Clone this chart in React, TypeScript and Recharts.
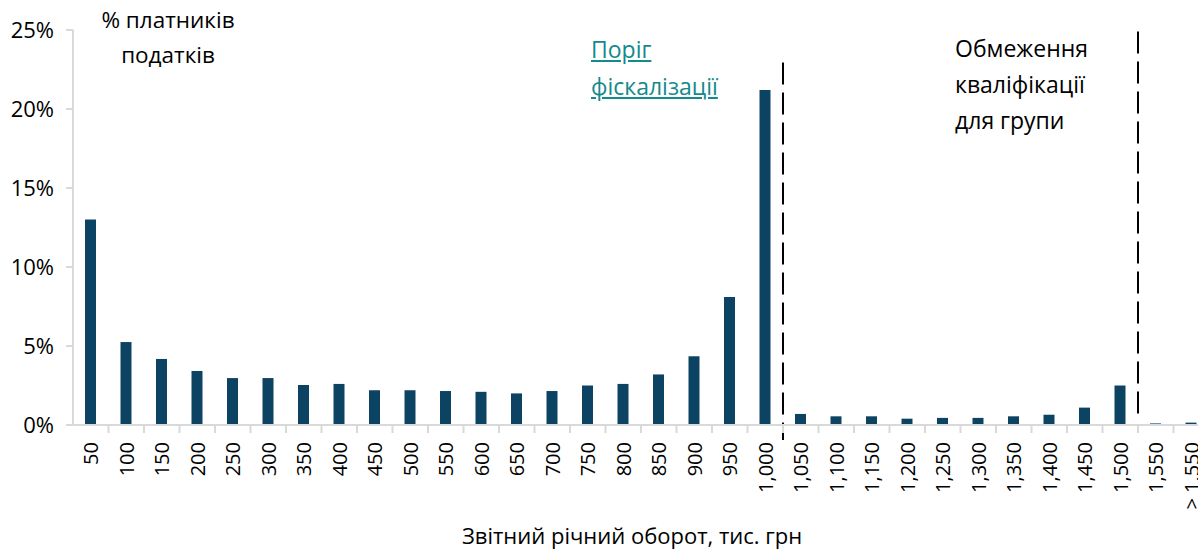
import React from 'react';
import {
  BarChart,
  Bar,
  XAxis,
  YAxis,
  ReferenceLine,
} from 'recharts';

// Turnover buckets, thousand UAH
const categories = [
  '50', '100', '150', '200', '250', '300', '350', '400', '450', '500',
  '550', '600', '650', '700', '750', '800', '850', '900', '950', '1,000',
  '1,050', '1,100', '1,150', '1,200', '1,250', '1,300', '1,350', '1,400', '1,450', '1,500',
  '1,550', '> 1,550',
];

// Share of taxpayers, %
const shares = [
  13.0, 5.25, 4.18, 3.42, 2.97, 2.97, 2.53, 2.6, 2.2, 2.2,
  2.15, 2.1, 2.0, 2.15, 2.5, 2.6, 3.2, 4.35, 8.1, 21.2,
  0.7, 0.55, 0.55, 0.4, 0.45, 0.45, 0.55, 0.65, 1.1, 2.5,
  0.1, 0.15,
];

const yTicks = [0, 5, 10, 15, 20, 25];

const data = categories.map((c, i) => ({ name: c, value: shares[i] }));

const FONT = '"Open Sans", sans-serif';
const BAR = '#0c4262';
const TEAL = '#138a8c';
const GRID = '#d9d9d9';
const BAND = 35.5;

const XTick = (props: any) => {
  const { x, y, payload } = props;
  return (
    <g>
      <line x1={x + BAND / 2} x2={x + BAND / 2} y1={y} y2={y + 8} stroke={GRID} strokeWidth={2} />
      <text
        x={x}
        y={y + 17}
        transform={`rotate(-90, ${x}, ${y + 17})`}
        textAnchor="end"
        dominantBaseline="central"
        fontFamily={FONT}
        fontSize={20}
        fill="#000"
      >
        {payload.value}
      </text>
    </g>
  );
};

export default function App() {
  return (
    <div style={{ position: 'absolute', left: 0, top: 0, width: 1198, height: 551, overflow: 'hidden', background: '#fff' }}>
      <BarChart
        width={1210}
        height={551}
        data={data}
        margin={{ top: 30, right: 1, bottom: 0, left: 11 }}
        barCategoryGap={0}
      >
        <XAxis
          dataKey="name"
          interval={0}
          height={126}
          tickSize={0}
          tickMargin={0}
          tickLine={false}
          axisLine={{ stroke: GRID, strokeWidth: 2 }}
          tick={<XTick />}
        />
        <YAxis
          width={62}
          domain={[0, 25]}
          ticks={yTicks}
          tickFormatter={(v: number) => `${v}%`}
          tickSize={7}
          tickMargin={12}
          axisLine={{ stroke: GRID, strokeWidth: 2 }}
          tickLine={{ stroke: GRID, strokeWidth: 2 }}
          tick={{ fontFamily: FONT, fontSize: 22, fill: '#000' }}
        />
        <Bar dataKey="value" fill={BAR} barSize={11} isAnimationActive={false} />
        <ReferenceLine
          segment={[{ x: '1,000', y: 22.95 }, { x: '1,000', y: -0.95 }]}
          position="end"
          stroke="#000"
          strokeWidth={2}
          strokeDasharray="22 8"
          ifOverflow="visible"
        />
        <ReferenceLine
          segment={[{ x: '1,500', y: 24.9 }, { x: '1,500', y: 0.55 }]}
          position="end"
          stroke="#000"
          strokeWidth={2}
          strokeDasharray="22 8"
          ifOverflow="visible"
        />
      </BarChart>

      <div style={{ position: 'absolute', left: 68, top: 2, width: 200, textAlign: 'center', fontFamily: FONT, fontSize: 22.5, lineHeight: '35px', color: '#000' }}>
        % платників<br />податків
      </div>
      <div style={{ position: 'absolute', left: 591, top: 31, fontFamily: FONT, fontSize: 23, lineHeight: '37px', color: TEAL, textDecoration: 'underline' }}>
        Поріг<br />фіскалізації
      </div>
      <div style={{ position: 'absolute', left: 955, top: 30, fontFamily: FONT, fontSize: 23, lineHeight: '36px', color: '#000' }}>
        Обмеження<br />кваліфікації<br />для групи
      </div>
      <div style={{ position: 'absolute', left: 462, top: 522, whiteSpace: 'nowrap', fontFamily: FONT, fontSize: 22, lineHeight: '26px', color: '#000' }}>
        Звітний річний оборот, тис. грн
      </div>
    </div>
  );
}
